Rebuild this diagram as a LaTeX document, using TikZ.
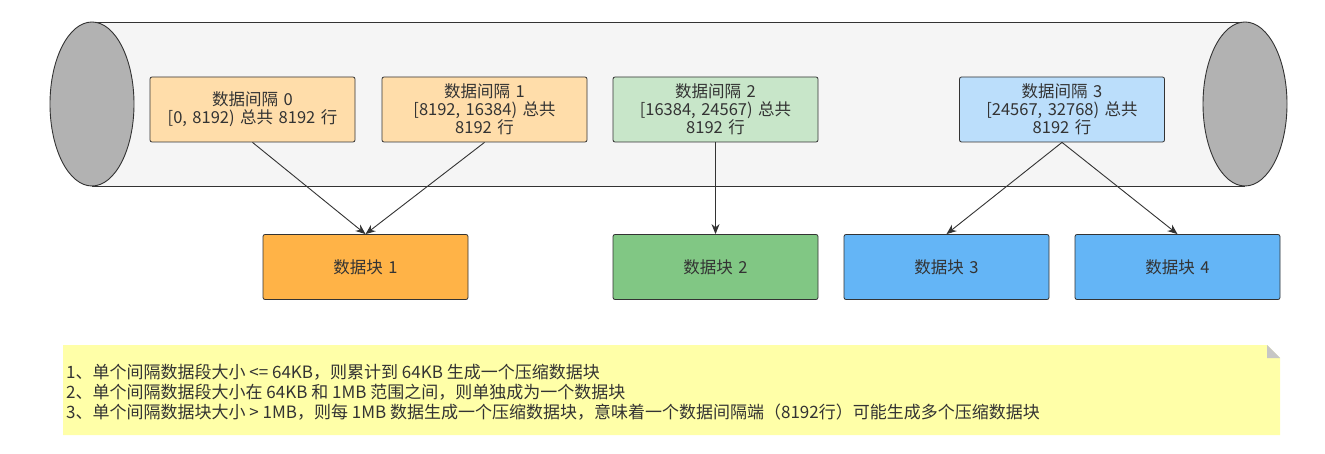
\documentclass[tikz,border=0pt]{standalone}
\usepackage{fontspec}
\setmainfont{Noto Sans CJK SC}
\usetikzlibrary{arrows.meta}
\definecolor{lo}{HTML}{FFDDAA}
\definecolor{lg}{HTML}{C8E6C9}
\definecolor{lb}{HTML}{BBDEFB}
\definecolor{bo}{HTML}{FFB347}
\definecolor{bg}{HTML}{81C784}
\definecolor{bb}{HTML}{64B5F6}
\definecolor{ln}{HTML}{333333}
\definecolor{nt}{HTML}{FFFFA8}
\tikzset{
 box/.style={draw=ln,rounded corners=2pt,minimum width=205pt,minimum height=65pt,align=center,font=\fontsize{16.5pt}{18pt}\selectfont,text=ln,line width=0.8pt,inner sep=2pt,text width=200pt},
 arr/.style={draw=ln,line width=0.9pt,-{Stealth[length=10pt,width=8pt]}}
}
\begin{document}
\begin{tikzpicture}[x=1pt,y=-1pt]
\useasboundingbox[fill=white] (0,0) rectangle (1325,454);
% cylinder
\fill[gray!8] (92,22) rectangle (1245,186);
\draw[ln,line width=0.9pt] (92,22) -- (1245,22) (92,186) -- (1245,186);
\draw[ln,line width=0.9pt,fill=white!40!gray] (1245,104) ellipse [x radius=42,y radius=82];
\draw[ln,line width=0.9pt,fill=white!40!gray] (92,104) ellipse [x radius=42,y radius=82];
\node[box,fill=lo] (i0) at (252.5,109.5) {数据间隔 0\\{}[0, 8192) 总共 8192 行};
\node[box,fill=lo] (i1) at (484.5,109.5) {数据间隔 1\\{}[8192, 16384) 总共\\8192 行};
\node[box,fill=lg] (i2) at (715.5,109.5) {数据间隔 2\\{}[16384, 24567) 总共\\8192 行};
\node[box,fill=lb] (i3) at (1062,109.5) {数据间隔 3\\{}[24567, 32768) 总共\\8192 行};
\node[box,fill=bo] (b1) at (365.5,267) {数据块 1};
\node[box,fill=bg] (b2) at (715.5,267) {数据块 2};
\node[box,fill=bb] (b3) at (946.5,267) {数据块 3};
\node[box,fill=bb] (b4) at (1177.5,267) {数据块 4};
\draw[arr] (i0.south) -- (b1.north);
\draw[arr] (i1.south) -- (b1.north);
\draw[arr] (i2.south) -- (b2.north);
\draw[arr] (i3.south) -- (b3.north);
\draw[arr] (i3.south) -- (b4.north);
% note
\fill[nt] (63,345) -- (1267,345) -- (1280,358) -- (1280,435) -- (63,435) -- cycle;
\fill[gray!45] (1267,345) -- (1280,358) -- (1267,358) -- cycle;
\node[anchor=west,align=left,text=ln,font=\fontsize{17pt}{20pt}\selectfont,inner sep=0pt] (nt) at (66,392) {1、单个间隔数据段大小 <= 64KB，则累计到 64KB 生成一个压缩数据块\\2、单个间隔数据段大小在 64KB 和 1MB 范围之间，则单独成为一个数据块\\3、单个间隔数据块大小 > 1MB，则每 1MB 数据生成一个压缩数据块，意味着一个数据间隔端（8192行）可能生成多个压缩数据块};
\end{tikzpicture}
\end{document}
